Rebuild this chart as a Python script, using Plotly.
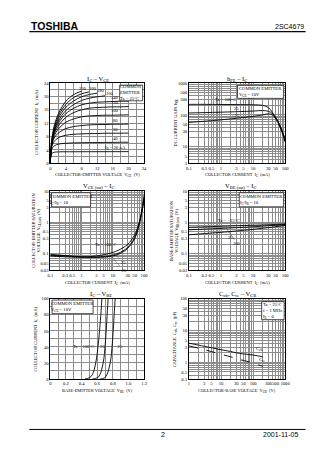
import math
import plotly.graph_objects as go

W, H = 336, 475

# ---------------- DATA ----------------
# Plot 1: IC - VCE
vce = [0, 0.3, 1, 2, 3, 4, 6, 8, 10, 12, 14, 16, 18, 20]
ib_values = [20, 40, 60, 80, 100, 120, 140, 160, 180, 200, 220]
ic_curves = [
    [0, 2.8, 3.3, 3.4, 3.45, 3.45, 3.45, 3.46, 3.46, 3.47, 3.47, 3.48, 3.48, 3.5],
    [0, 4.0, 5.2, 5.7, 5.9, 6.0, 6.1, 6.15, 6.2, 6.2, 6.25, 6.25, 6.3, 6.3],
    [0, 4.6, 6.6, 7.6, 8.1, 8.4, 8.7, 8.8, 8.9, 8.9, 9.0, 9.0, 9.0, 9.05],
    [0, 5.0, 7.6, 9.0, 9.8, 10.4, 11.0, 11.3, 11.5, 11.6, 11.6, 11.7, 11.7, 11.75],
    [0, 5.3, 8.3, 10.2, 11.4, 12.3, 13.3, 13.9, 14.2, 14.3, 14.4, 14.4, 14.45, 14.5],
    [0, 5.5, 8.9, 11.1, 12.6, 13.8, 15.2, 16.0, 16.5, 16.7, 16.8, 16.9, 16.9, 17.0],
    [0, 5.7, 9.3, 11.9, 13.6, 14.9, 16.5, 17.5, 18.0, 18.3, 18.4, 18.5, 18.6, 18.6],
    [0, 5.8, 9.7, 12.5, 14.4, 15.8, 17.6, 18.8, 19.5, 19.9, 20.2],
    [0, 6.0, 10.2, 13.3, 15.3, 16.8, 18.7, 19.9, 20.6, 21.0],
    [0, 6.2, 10.7, 14.0, 16.1, 17.7, 19.7, 20.8, 21.4],
    [0, 6.4, 11.2, 14.7, 16.9, 18.6, 20.6, 21.6],
]
lin24_ticks = [0, 2, 4, 6, 8, 10, 12, 14, 16, 18, 20, 22, 24]
lin24_text = ["0", "", "4", "", "8", "", "12", "", "16", "", "20", "", "24"]

# Plot 2: hFE - IC
ic_h = [0.1, 0.3, 1, 3, 10, 20, 30, 40, 50, 70, 100]
hfe_100 = [215, 215, 213, 212, 208, 200, 170, 120, 80, 40, 15]
hfe_25 = [115, 118, 122, 126, 132, 137, 130, 110, 85, 45, 18]
hfe_m25 = [58, 63, 70, 78, 90, 100, 108, 100, 80, 45, 14]

# Plot 3: VCE(sat) - IC
ic_s = [0.1, 0.3, 1, 3, 10, 20, 30, 50, 70, 100]
vcesat_100 = [0.085, 0.080, 0.078, 0.085, 0.11, 0.15, 0.20, 0.40, 1.0, 5.0]
vcesat_25 = [0.090, 0.085, 0.078, 0.078, 0.090, 0.12, 0.16, 0.33, 0.9, 6.0]
vcesat_m25 = [0.095, 0.088, 0.080, 0.077, 0.085, 0.11, 0.15, 0.30, 0.85, 7.0]

# Plot 4: VBE(sat) - IC
ic_b = [0.1, 0.3, 1, 3, 10, 30, 100]
vbesat_m25 = [0.70, 0.72, 0.75, 0.78, 0.81, 0.84, 0.88]
vbesat_25 = [0.58, 0.61, 0.64, 0.68, 0.72, 0.78, 0.85]
vbesat_100 = [0.40, 0.44, 0.48, 0.53, 0.60, 0.68, 0.80]

# Plot 5: IC - VBE
ic_v = [0, 0.8, 3, 8, 15, 25, 40, 60, 85, 100]
vbe_100 = [0.44, 0.48, 0.52, 0.55, 0.57, 0.59, 0.61, 0.63, 0.65, 0.66]
vbe_25 = [0.54, 0.58, 0.62, 0.645, 0.665, 0.685, 0.70, 0.715, 0.73, 0.74]
vbe_m25 = [0.64, 0.68, 0.71, 0.735, 0.755, 0.775, 0.79, 0.805, 0.82, 0.83]
vbe_ticks = [0, 0.1, 0.2, 0.3, 0.4, 0.5, 0.6, 0.7, 0.8, 0.9, 1.0, 1.1, 1.2]
vbe_text = ["0", "", "0.2", "", "0.4", "", "0.6", "", "0.8", "", "1.0", "", "1.2"]
icv_ticks = [0, 10, 20, 30, 40, 50, 60, 70, 80, 90, 100]
icv_text = ["0", "", "20", "", "40", "", "60", "", "80", "", "100"]

# Plot 6: Cob, Cre - VCB
vcb = [1, 2, 3, 5, 10, 20, 30, 50, 100, 200]
cob = [4.0, 3.5, 3.2, 2.9, 2.5, 2.2, 2.0, 1.85, 1.7, 1.5]
cre = [3.3, 2.8, 2.5, 2.2, 1.8, 1.5, 1.3, 1.15, 0.95, 0.75]

# log tick label sets
lab_ic = [0.1, 0.3, 0.5, 1, 3, 5, 10, 30, 50, 100]
lab_hfe = [3, 5, 10, 30, 50, 100, 300, 500, 1000]
lab_sat = [0.03, 0.05, 0.1, 0.3, 0.5, 1, 3, 5, 10]
lab_vcb = [1, 3, 5, 10, 30, 50, 100, 300, 500, 1000]
lab_cap = [0.3, 0.5, 1, 3, 5, 10, 30, 50, 100]

SERIF = "Liberation Serif"
TF = dict(family=SERIF, size=4.6, color="black")


def fmt(v):
    return "%g" % v


def log_grid(lo_exp, hi_exp, lo_val, hi_val, labels):
    vals, texts = [], []
    for e in range(lo_exp, hi_exp + 1):
        for d in range(1, 10):
            v = round(d * 10 ** e, 6)
            if v < lo_val * 0.999 or v > hi_val * 1.001:
                continue
            vals.append(v)
            texts.append(fmt(v) if any(abs(v - l) < 1e-9 for l in labels) else "")
    return vals, texts


def xd(a, b):
    return [a / W, b / W]


def yd(top, bottom):
    return [1 - bottom / H, 1 - top / H]


def px(x):
    return x / W


def py(y):
    return 1 - y / H


def axis(domain, rng, typ, tv, tt, anchor):
    return dict(domain=domain, range=rng, type=typ, tickmode="array",
                tickvals=tv, ticktext=tt, showgrid=True, gridcolor="#8c8c8c",
                gridwidth=0.5, showline=True, linecolor="black", linewidth=0.9,
                mirror=True, ticks="", zeroline=False, tickfont=TF, tickangle=0,
                anchor=anchor, fixedrange=True, ticklabelstandoff=0)


LX = xd(48.5, 144.5)
RX = xd(190.5, 289)
R1 = yd(82, 163)
R2 = yd(191, 271)
R3 = yd(300, 381)

fig = go.Figure()
LINE = dict(color="black", width=0.9)

# Plot 1
for ib, ys in zip(ib_values, ic_curves):
    fig.add_trace(go.Scatter(x=vce[:len(ys)], y=ys, mode="lines", line=dict(LINE, shape="spline"),
                             xaxis="x", yaxis="y", hoverinfo="skip"))
# Plot 2
for ys in (hfe_100, hfe_25, hfe_m25):
    fig.add_trace(go.Scatter(x=ic_h, y=ys, mode="lines", line=dict(LINE, shape="spline"),
                             xaxis="x2", yaxis="y2", hoverinfo="skip"))
# Plot 3
for ys in (vcesat_100, vcesat_25, vcesat_m25):
    fig.add_trace(go.Scatter(x=ic_s, y=ys, mode="lines", line=dict(LINE, shape="spline"),
                             xaxis="x3", yaxis="y3", hoverinfo="skip"))
# Plot 4
for ys in (vbesat_m25, vbesat_25, vbesat_100):
    fig.add_trace(go.Scatter(x=ic_b, y=ys, mode="lines", line=dict(LINE, shape="spline"),
                             xaxis="x4", yaxis="y4", hoverinfo="skip"))
# Plot 5
for xs in (vbe_100, vbe_25, vbe_m25):
    fig.add_trace(go.Scatter(x=xs, y=ic_v, mode="lines", line=dict(LINE, shape="spline"),
                             xaxis="x5", yaxis="y5", hoverinfo="skip"))
# Plot 6
fig.add_trace(go.Scatter(x=vcb, y=cob, mode="lines", line=dict(LINE, shape="spline"),
                         xaxis="x6", yaxis="y6", hoverinfo="skip"))
fig.add_trace(go.Scatter(x=vcb, y=cre, mode="lines", line=dict(LINE, shape="spline", dash="dash"),
                         xaxis="x6", yaxis="y6", hoverinfo="skip"))

ic_tv, ic_tt = log_grid(-1, 2, 0.1, 100, lab_ic)
hfe_tv, hfe_tt = log_grid(0, 3, 3, 1000, lab_hfe)
sat_tv, sat_tt = log_grid(-2, 1, 0.03, 10, lab_sat)
vcb_tv, vcb_tt = log_grid(0, 3, 1, 1000, lab_vcb)
cap_tv, cap_tt = log_grid(-1, 2, 0.3, 100, lab_cap)

fig.update_layout(
    width=W, height=H, margin=dict(l=0, r=0, t=0, b=0),
    paper_bgcolor="white", plot_bgcolor="white", showlegend=False,
    xaxis=axis(LX, [0, 24], "linear", lin24_ticks, lin24_text, "y"),
    yaxis=axis(R1, [0, 24], "linear", lin24_ticks, lin24_text, "x"),
    xaxis2=axis(RX, [-1, 2], "log", ic_tv, ic_tt, "y2"),
    yaxis2=axis(R1, [math.log10(3), 3], "log", hfe_tv, hfe_tt, "x2"),
    xaxis3=axis(LX, [-1, 2], "log", ic_tv, ic_tt, "y3"),
    yaxis3=axis(R2, [math.log10(0.03), 1], "log", sat_tv, sat_tt, "x3"),
    xaxis4=axis(RX, [-1, 2], "log", ic_tv, ic_tt, "y4"),
    yaxis4=axis(R2, [math.log10(0.03), 1], "log", sat_tv, sat_tt, "x4"),
    xaxis5=axis(LX, [0, 1.2], "linear", vbe_ticks, vbe_text, "y5"),
    yaxis5=axis(R3, [0, 100], "linear", icv_ticks, icv_text, "x5"),
    xaxis6=axis(RX, [0, 3], "log", vcb_tv, vcb_tt, "y6"),
    yaxis6=axis(R3, [math.log10(0.3), 2], "log", cap_tv, cap_tt, "x6"),
)

shapes = []
ann = []
C = dict(xanchor="center", yanchor="middle")


def box(xn, x0, x1, y0, y1, lines):
    yn = xn.replace("x", "y")
    shapes.append(dict(type="rect", xref=xn + " domain", yref=yn + " domain",
                       x0=x0, x1=x1, y0=y0, y1=y1, fillcolor="white",
                       line=dict(color="black", width=0.7), layer="above"))
    ann.append(dict(xref=xn + " domain", yref=yn + " domain",
                    x=(x0 + x1) / 2, y=(y0 + y1) / 2, text="<br>".join(lines), showarrow=False,
                    font=dict(family=SERIF, size=4.6, color="black"), align="left", **C))


box("x", 0.74, 0.985, 0.78, 0.975, ["COMMON", "EMITTER", "Ta = 25°C"])
box("x2", 0.505, 0.985, 0.81, 0.972, ["COMMON EMITTER", "V<sub>CE</sub> = 10V"])
box("x3", 0.012, 0.43, 0.80, 0.978, ["COMMON EMITTER", "I<sub>C</sub>/I<sub>B</sub> = 10"])
box("x4", 0.523, 0.985, 0.80, 0.978, ["COMMON EMITTER", "I<sub>C</sub>/I<sub>B</sub> = 10"])
box("x5", 0.018, 0.456, 0.815, 0.985, ["COMMON EMITTER", "V<sub>CE</sub> = 10V"])
box("x6", 0.756, 0.99, 0.74, 0.965, ["Ta = 25°C", "f = 1 MHz", "I<sub>E</sub> = 0"])

SF = dict(family=SERIF, size=4.6, color="black")


def note(xr, yr, x, y, text, **kw):
    d = dict(xref=xr, yref=yr, x=x, y=y, text=text, showarrow=False, font=SF)
    if not kw.get("showarrow"):
        d.update(C)
    d.update(kw)
    ann.append(d)


# Plot 1 curve labels
p1_lab = ["I<sub>B</sub> = 20 µA", "40", "60", "80", "100", "120", "140"]
for t, ys in zip(p1_lab, ic_curves[:7]):
    note("x", "y", 16.6, ys[-1] + 1.2, t)
note("x", "y", 15.2, 20.9, "160")
note("x", "y", 13.0, 21.8, "180")
note("x", "y", 10.8, 22.3, "200")
note("x", "y", 8.4, 22.5, "220")

# Plot 2 labels
note("x2", "y2", math.log10(1.4), math.log10(300), "Ta = 100°C")
note("x2", "y2", math.log10(3.0), math.log10(160), "25")
note("x2", "y2", math.log10(3.0), math.log10(93), "−25")

# Plot 3 labels
note("x3", "y3", math.log10(6.0), math.log10(0.2), "Ta = 100°C")
note("x3", "y3", math.log10(12), math.log10(0.093), "25", showarrow=True, arrowhead=0,
     arrowwidth=0.5, ax=8, ay=8, standoff=0)
note("x3", "y3", math.log10(9), math.log10(0.083), "−25", showarrow=True, arrowhead=0,
     arrowwidth=0.5, ax=12, ay=14, standoff=0)

# Plot 4 labels
note("x4", "y4", math.log10(1.8), math.log10(1.15), "Ta = −25°C")
note("x4", "y4", math.log10(1.5), math.log10(0.655), "25", showarrow=True, arrowhead=0,
     arrowwidth=0.5, ax=4, ay=9, standoff=0)
note("x4", "y4", math.log10(1.8), math.log10(0.495), "100", showarrow=True, arrowhead=0,
     arrowwidth=0.5, ax=8, ay=12, standoff=0)

# Plot 5 labels
note("x5", "y5", 0.43, 40, "Ta = 100°C")
note("x5", "y5", 0.665, 40, "25")
note("x5", "y5", 0.88, 40, "−25")

# Plot 6 labels
note("x6 domain", "y6 domain", 0.73, 0.37, "C<sub>ob</sub>")
note("x6 domain", "y6 domain", 0.76, 0.24, "C<sub>re</sub>")

# Titles
TT = dict(family=SERIF, size=6.5, color="black")
for x, y, t in [(97, 78, "I<sub>C</sub> – V<sub>CE</sub>"),
                (240, 78, "h<sub>FE</sub> – I<sub>C</sub>"),
                (98, 186, "V<sub>CE (sat)</sub> – I<sub>C</sub>"),
                (243, 186, "V<sub>BE (sat)</sub> – I<sub>C</sub>"),
                (100, 295, "I<sub>C</sub> – V<sub>BE</sub>"),
                (240, 295, "C<sub>ob</sub>, C<sub>re</sub> – V<sub>CB</sub>")]:
    ann.append(dict(xref="paper", yref="paper", x=px(x), y=py(y), text=t, showarrow=False, font=TT, **C))

# Axis titles
AF = dict(family=SERIF, size=4.4, color="black")
for x, y, t in [(96.5, 175, "COLLECTOR-EMITTER VOLTAGE  V<sub>CE</sub>  (V)"),
                (240, 175, "COLLECTOR CURRENT  I<sub>C</sub>  (mA)"),
                (97, 283.5, "COLLECTOR CURRENT  I<sub>C</sub>  (mA)"),
                (240, 283.5, "COLLECTOR CURRENT  I<sub>C</sub>  (mA)"),
                (96.5, 393, "BASE-EMITTER VOLTAGE  V<sub>BE</sub>  (V)"),
                (240, 393, "COLLECTOR-BASE VOLTAGE  V<sub>CB</sub>  (V)")]:
    ann.append(dict(xref="paper", yref="paper", x=px(x), y=py(y), text=t, showarrow=False, font=AF, **C))
for x, y, t in [(35, 122, "COLLECTOR CURRENT  I<sub>C</sub>  (mA)"),
                (177, 122, "DC CURRENT GAIN  h<sub>FE</sub>"),
                (34, 231, "COLLECTOR-EMITTER SATURATION<br>VOLTAGE  V<sub>CE (sat)</sub>  (V)"),
                (175.5, 231, "BASE-EMITTER SATURATION<br>VOLTAGE  V<sub>BE (sat)</sub>  (V)"),
                (34, 341, "COLLECTOR CURRENT  I<sub>C</sub>  (mA)"),
                (177, 341, "CAPACITANCE  C<sub>ob</sub>, C<sub>re</sub>  (pF)")]:
    ann.append(dict(xref="paper", yref="paper", x=px(x), y=py(y), text=t, showarrow=False,
                    font=AF, textangle=-90, **C))

# Header / footer
shapes.append(dict(type="line", xref="paper", yref="paper", x0=px(27), x1=px(310), y0=py(30), y1=py(30),
                   line=dict(color="black", width=1.2)))
shapes.append(dict(type="line", xref="paper", yref="paper", x0=px(27), x1=px(310), y0=py(432), y1=py(432),
                   line=dict(color="black", width=1.0)))
ann.append(dict(xref="paper", yref="paper", x=px(27), y=py(24), xanchor="left", yanchor="middle",
                text="<b>TOSHIBA</b>", showarrow=False,
                font=dict(family="Liberation Sans", size=10.5, color="black")))
ann.append(dict(xref="paper", yref="paper", x=px(310), y=py(25), xanchor="right", yanchor="middle",
                text="2SC4679", showarrow=False, font=dict(family="Liberation Sans", size=7, color="black")))
ann.append(dict(xref="paper", yref="paper", x=px(164), y=py(437), text="2", showarrow=False,
                font=dict(family="Liberation Sans", size=7, color="black"), **C))
ann.append(dict(xref="paper", yref="paper", x=px(304), y=py(437), xanchor="right", yanchor="middle",
                text="2001-11-05", showarrow=False, font=dict(family="Liberation Sans", size=7, color="black")))

fig.update_layout(shapes=shapes, annotations=ann)
fig.write_html("out.html")
